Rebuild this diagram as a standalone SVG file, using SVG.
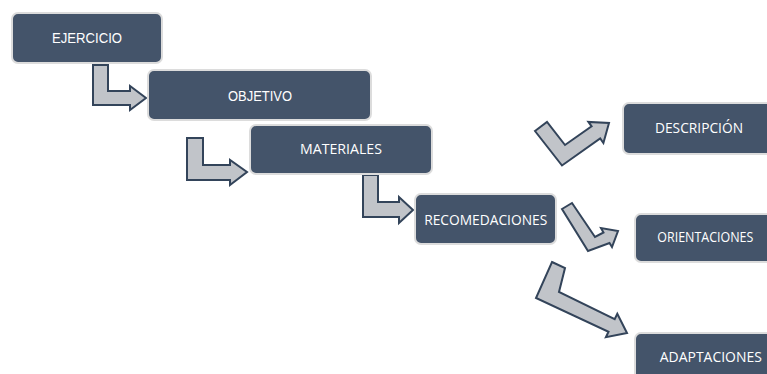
<svg xmlns="http://www.w3.org/2000/svg" width="767" height="374" viewBox="0 0 767 374">
<style>
.box{fill:#44546A;stroke:#DCDCDC;stroke-width:2}
.t{fill:#FFFFFF;font-size:14px;text-anchor:middle}
.a{font-family:"Liberation Sans",Arial,sans-serif}
.c{font-family:"Open Sans","Noto Sans",sans-serif}
.arr{fill:#C1C4C9;stroke:#33445A;stroke-width:2;stroke-linejoin:miter}
</style>
<rect width="767" height="374" fill="#FFFFFF"/>
<g id="connectors">
<polygon class="arr" points="93,65 108,65 108,91 130,91 130,86 146,98 130,110 130,105 93,105"/>
<polygon class="arr" points="187,138 203,138 203,165 230,165 230,160 247,172 230,185 230,180 187,180"/>
<polygon class="arr" points="363,175 378,175 378,202 399,202 399,197 413,210 399,223 399,217 363,217"/>
<polygon class="arr" points="535,131 547,122 565,145 591.6,126.3 588.4,121.9 609,123 603.4,143 600.2,138.5 562,165.5"/>
<polygon class="arr" points="562,209 572,203 595,237 603.5,232.5 601,228 618,231 612,247 609.5,243 588,251"/>
<polygon class="arr" points="552,262 565,268 559,292 614.7,319.2 617.3,313.8 627,333 605.9,337.2 608.5,331.8 536,298"/>
</g>
<g id="ejercicio">
<rect class="box" x="12" y="13" width="150" height="50" rx="6"/>
<text class="t a" x="87" y="43.3" textLength="70" lengthAdjust="spacingAndGlyphs">EJERCICIO</text>
</g>
<g id="objetivo">
<rect class="box" x="148" y="70" width="223" height="50" rx="6"/>
<text class="t a" x="260" y="101" textLength="64" lengthAdjust="spacingAndGlyphs">OBJETIVO</text>
</g>
<g id="materiales">
<rect class="box" x="250" y="125" width="182" height="49" rx="6"/>
<text class="t c" x="341" y="154" textLength="82" lengthAdjust="spacingAndGlyphs">MATERIALES</text>
</g>
<g id="recomedaciones">
<rect class="box" x="415" y="194" width="141" height="50" rx="6"/>
<text class="t c" x="485.7" y="225" textLength="123" lengthAdjust="spacingAndGlyphs">RECOMEDACIONES</text>
</g>
<g id="descripcion">
<rect class="box" x="623" y="103" width="152" height="51" rx="6"/>
<text class="t c" x="699" y="133.3" textLength="88" lengthAdjust="spacingAndGlyphs">DESCRIPCIÓN</text>
</g>
<g id="orientaciones">
<rect class="box" x="635" y="214" width="150" height="48" rx="6"/>
<text class="t c" x="705.3" y="241.7" textLength="96" lengthAdjust="spacingAndGlyphs">ORIENTACIONES</text>
</g>
<g id="adaptaciones">
<rect class="box" x="635" y="333" width="150" height="50" rx="6"/>
<text class="t c" x="710.8" y="362" textLength="102" lengthAdjust="spacingAndGlyphs">ADAPTACIONES</text>
</g>
</svg>
